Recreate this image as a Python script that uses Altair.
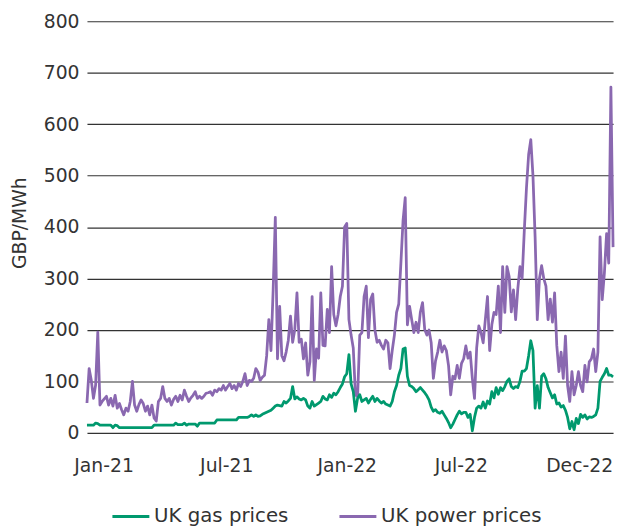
import altair as alt
import pandas as pd

# ---- data (3-day grid, GBP/MWh) ----
start_date = "2021-01-01"
end_date = "2022-12-31"
step = "3D"

power = [
    58, 125, 102, 67, 93, 196, 54, 61, 66, 71,
    54, 67, 52, 73, 48, 57, 45, 35, 48, 42,
    61, 100, 54, 42, 55, 64, 57, 42, 52, 35,
    54, 29, 23, 61, 67, 90, 67, 61, 67, 54,
    65, 71, 61, 73, 64, 83, 71, 61, 68, 73,
    80, 67, 71, 67, 71, 77, 78, 80, 73, 83,
    80, 86, 83, 92, 83, 90, 96, 86, 92, 83,
    96, 90, 100, 115, 92, 102, 100, 106, 125, 118,
    102, 108, 112, 150, 220, 160, 278, 419, 144, 246,
    150, 140, 157, 180, 227, 176, 201, 272, 176, 182,
    144, 175, 112, 138, 265, 102, 163, 145, 272, 170,
    169, 240, 195, 323, 230, 208, 230, 265, 285, 400,
    407, 220, 190, 165, 74, 70, 190, 195, 265, 285,
    185, 259, 270, 200, 176, 180, 170, 163, 180, 175,
    125, 160, 190, 234, 250, 330, 413, 457, 210, 246,
    220, 195, 215, 195, 235, 253, 201, 190, 200, 175,
    106, 140, 157, 180, 157, 169, 160, 131, 74, 110,
    105, 131, 106, 135, 144, 169, 145, 157, 106, 67,
    165, 208, 195, 175, 220, 265, 160, 210, 234, 230,
    285, 195, 323, 234, 323, 304, 235, 278, 220, 280,
    323, 300, 393, 476, 541, 570, 500, 380, 220, 300,
    325, 300, 285, 220, 260, 215, 272, 170, 119, 157,
    106, 188, 92, 61, 119, 74, 92, 119, 92, 80,
    131, 99, 138, 144, 163, 119, 157, 381, 259, 311,
    387, 330, 672, 361,
]

gas = [
    15, 15, 15, 15, 19, 18, 15, 15, 15, 15,
    15, 15, 10, 15, 14, 10, 10, 10, 10, 10,
    10, 10, 10, 10, 10, 10, 10, 10, 10, 10,
    10, 15, 15, 15, 15, 15, 15, 15, 15, 15,
    15, 19, 16, 16, 16, 19, 15, 17, 17, 17,
    17, 13, 19, 19, 19, 19, 19, 19, 19, 19,
    25, 25, 25, 25, 25, 25, 25, 25, 25, 25,
    30, 30, 30, 30, 30, 32, 35, 32, 35, 32,
    33, 36, 38, 40, 42, 44, 48, 52, 54, 53,
    52, 61, 58, 62, 67, 90, 66, 70, 66, 64,
    67, 64, 52, 48, 61, 52, 55, 58, 61, 71,
    66, 64, 74, 69, 77, 74, 80, 88, 95, 109,
    115, 152, 95, 80, 42, 67, 74, 61, 64, 67,
    58, 65, 71, 61, 67, 62, 58, 61, 56, 54,
    52, 61, 80, 92, 112, 125, 163, 165, 110, 92,
    90, 86, 80, 84, 88, 83, 78, 72, 64, 50,
    42, 45, 40, 38, 42, 35, 28, 20, 10, 17,
    26, 35, 42, 37, 40, 40, 30, 36, 4, 30,
    48, 52, 48, 60, 48, 62, 56, 80, 68, 88,
    75, 88, 82, 90, 100, 105, 90, 86, 90, 88,
    100, 120, 120, 125, 150, 179, 160, 48, 92, 48,
    110, 115, 105, 88, 78, 68, 74, 56, 58, 50,
    53, 44, 30, 8, 22, 6, 28, 18, 36, 30,
    35, 27, 31, 30, 32, 35, 48, 100, 108, 115,
    125, 112, 112, 109,
]

series_names = ["UK gas prices", "UK power prices"]
series_colors = ["#00996e", "#8a68b0"]

# tick label placement (as in the reference) and texts
tick_dates = [(2021, 1, 24), (2021, 7, 13), (2021, 12, 27), (2022, 6, 3), (2022, 11, 14)]
tick_labels = ["Jan-21", "Jul-21", "Jan-22", "Jul-22", "Dec-22"]
y_ticks = [0, 100, 200, 300, 400, 500, 600, 700, 800]

# ---- table ----
n = len(gas)
dates = pd.date_range(start_date, periods=n, freq=step)
df = pd.DataFrame({
    "date": list(dates) + list(dates),
    "value": gas + power,
    "series": [series_names[0]] * n + [series_names[1]] * n,
})

label_expr = ""
for (y, m, d), lab in zip(tick_dates, tick_labels):
    label_expr += f"timeFormat(datum.value, '%Y-%m-%d') == '{y:04d}-{m:02d}-{d:02d}' ? '{lab}' : "
label_expr += "''"

FONT = "DejaVu Sans"
TXT = "#333333"

x_enc = alt.X(
    "date:T",
    scale=alt.Scale(domain=[alt.DateTime(year=2021, month=1, date=1),
                            alt.DateTime(year=2022, month=12, date=31)], nice=False),
    axis=alt.Axis(
        values=[alt.DateTime(year=y, month=m, date=d) for (y, m, d) in tick_dates],
        labelExpr=label_expr, grid=False, domain=False, ticks=False,
        labelPadding=24, labelFlush=False, labelFontSize=19, labelFont=FONT,
        labelColor=TXT, title=None, labelOverlap=False,
    ),
)
y_enc = alt.Y(
    "value:Q",
    scale=alt.Scale(domain=[0, 800], nice=False),
    axis=alt.Axis(
        values=y_ticks, format="d", grid=True, gridColor="#333333", gridWidth=1.2,
        domain=False, ticks=False, labelPadding=8, labelFontSize=19, labelFont=FONT,
        labelColor=TXT, title="GBP/MWh", titleFont=FONT, titleFontSize=19,
        titleFontWeight="normal", titleColor=TXT, titleX=-68, titleY=204,
        titleBaseline="middle", titleAngle=-90,
    ),
)
color_enc = alt.Color(
    "series:N",
    scale=alt.Scale(domain=series_names, range=series_colors),
    legend=alt.Legend(
        orient="none", legendX=24, legendY=481, direction="horizontal", title=None,
        symbolType="stroke", symbolSize=1400, symbolStrokeWidth=3,
        labelFontSize=20, labelFont=FONT, labelColor=TXT, labelOffset=3,
        labelLimit=0, columnPadding=44, padding=0,
    ),
)

base = alt.Chart(df).mark_line(strokeWidth=2.8, strokeJoin="round").encode(
    x=x_enc, y=y_enc, color=color_enc
)
power_line = base.transform_filter(alt.datum.series == series_names[1])
gas_line = base.transform_filter(alt.datum.series == series_names[0])

chart = alt.layer(power_line, gas_line).properties(
    width=533, height=417,
    autosize=alt.AutoSizeParams(type="none"),
    padding={"left": 80, "top": 10, "right": 5, "bottom": 95},
).configure_view(stroke=None)

chart.save("out.html", embed_options={"renderer": "svg", "actions": False})
